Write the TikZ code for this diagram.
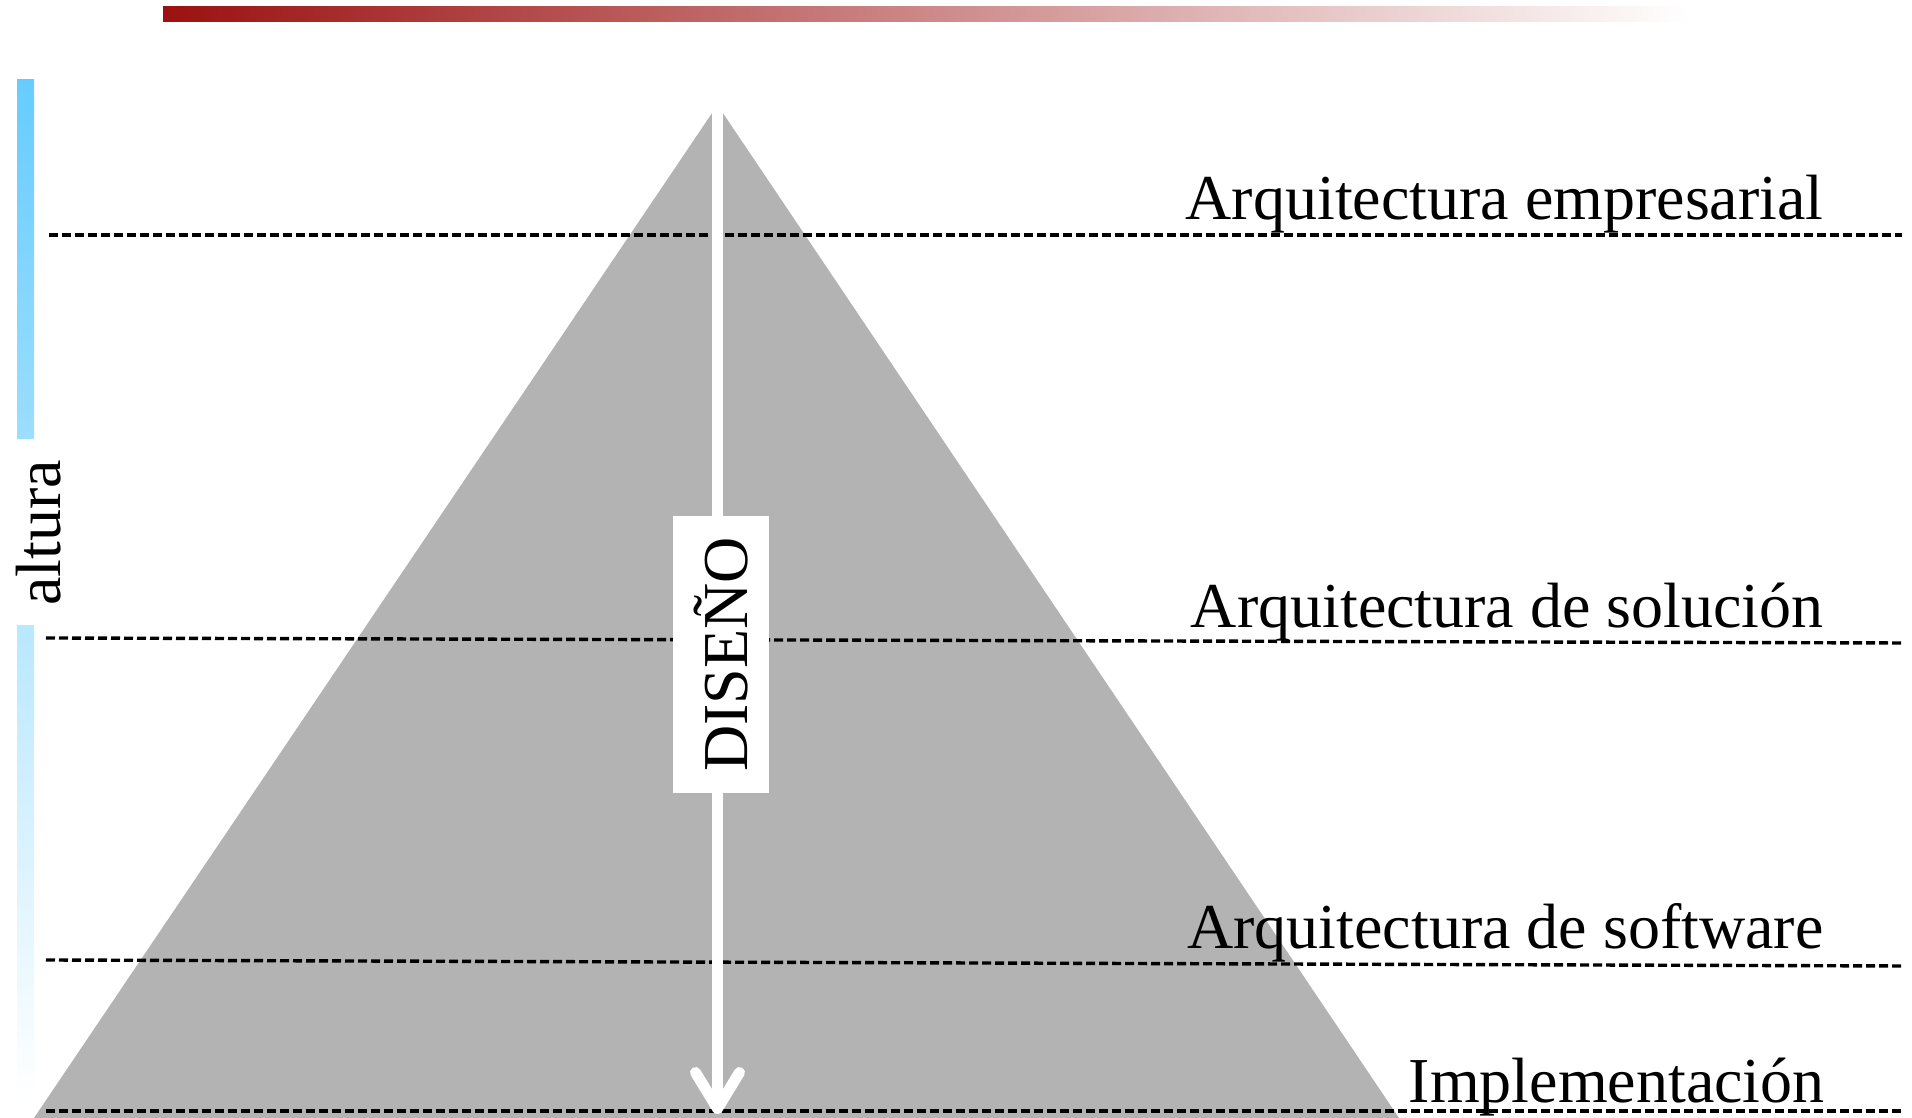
\documentclass[tikz,border=0pt]{standalone}
\usepackage{fontspec}
\setmainfont{Liberation Serif}
\usetikzlibrary{arrows.meta}
\definecolor{barred}{RGB}{155,17,17}
\definecolor{altblue}{RGB}{102,204,255}
\definecolor{pyrgray}{RGB}{179,179,179}

\begin{document}
\begin{tikzpicture}[x=0.5pt, y=0.5pt,
  divline/.style={dash pattern=on 4.5pt off 2pt, line width=1.7pt},
  layertext/.style={font=\fontsize{32}{38}\selectfont, anchor=base east, inner sep=0pt}]
 \useasboundingbox (0,0) rectangle (1912,1118);

 % title bar and height scale
 \shade[left color=barred, middle color=barred!40, right color=white] (163,1096) rectangle (1689,1111);
 \shade[top color=altblue, bottom color=altblue!65] (17,679) rectangle (34,1038);
 \shade[top color=altblue!46, bottom color=white] (17,21) rectangle (34,492);
 \node[rotate=90, inner sep=0pt, font=\fontsize{32}{38}\selectfont] (altura) at (39,585) {altura};

 % pyramid
 \fill[pyrgray] (717.5,1013) -- (34,0) -- (1399,0) -- cycle;

 \draw[divline] (49,883) -- (1902,883);
 \draw[divline] (46,480) -- (1902,475);
 \draw[divline] (46,158) -- (1902,152);
 \draw[divline] (46,7) -- (1902,7);

 \coordinate (apex) at (717.5,1016);
 \coordinate (tip) at (717.5,4);
 \draw[white, line width=5.5pt, -{Straight Barb[length=18pt, width=22pt, round]}] (apex) -- (tip);
 \node[fill=white, rotate=90, minimum width=138.5pt, minimum height=48pt, inner sep=0pt,
   font=\fontsize{32}{38}\selectfont] (diseno) at (721,463.5) {DISEÑO};

 \node[layertext] (empresarial) at (1824,898) {Arquitectura empresarial};
 \node[layertext] (solucion) at (1824,490) {Arquitectura de solución};
 \node[layertext] (software) at (1824,169) {Arquitectura de software};
 \node[layertext] (impl) at (1825,15) {Implementación};
\end{tikzpicture}
\end{document}
